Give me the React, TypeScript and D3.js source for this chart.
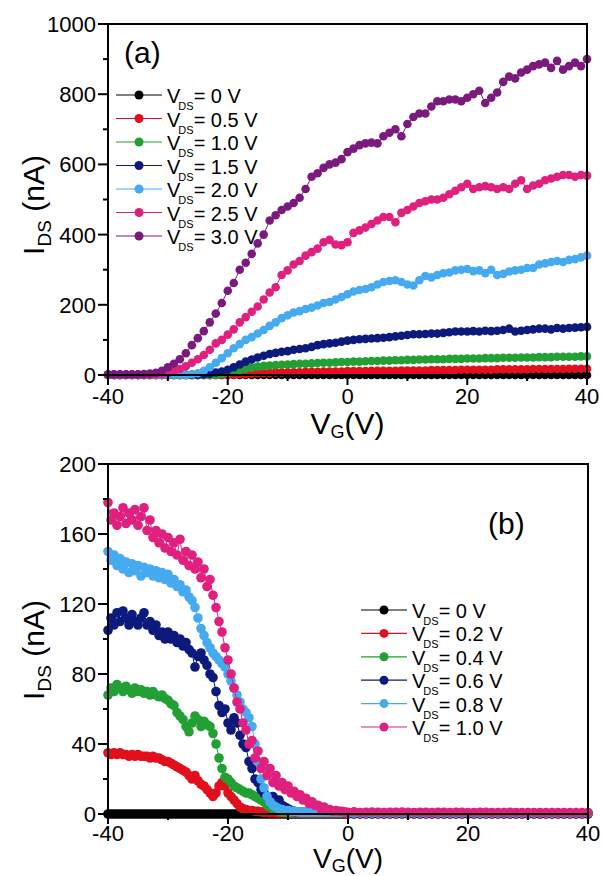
import React from "react";
import * as d3 from "d3";

const W = 604;
const H = 876;
const FONT = "'Liberation Sans', Arial, sans-serif";

// ---------- Panel (a): transfer curves, VG from -40 to 40 V, 1 V step ----------
const VG_A = d3.range(-40, 41, 1);

const VDS_A_LABELS = ["0 V", "0.5 V", "1.0 V", "1.5 V", "2.0 V", "2.5 V", "3.0 V"];
const VDS_A_COLORS = ["#000000", "#e2101c", "#22a033", "#0c1a7d", "#45aaf0", "#e0207e", "#7b1a7c"];

const IDS_A_0 = [
  0, 0, 0, 0, 0, 0, 0, 0, 0, 0, 0, 0, 0, 0, 0, 0, 0, 0, 0, 0,
  0, 0, 0, 0, 0, 0, 0, 0, 0, 0, 0, 0, 0, 0, 0, 0, 0, 0, 0, 0,
  0, 0, 0, 0, 0, 0, 0, 0, 0, 0, 0, 0, 0, 0, 0, 0, 0, 0, 0, 0,
  0, 0, 0, 0, 0, 0, 0, 0, 0, 0, 0, 0, 0, 0, 0, 0, 0, 0, 0, 0, 0,
];
const IDS_A_05 = [
  0.2, 0.2, 0.2, 0.2, 0.2, 0.2, 0.2, 0.2, 0.2, 0.2, 0.2, 0.2, 0.2, 0.2, 0.2, 0.2, 0.2, 0.2, 0.2, 0.2,
  0.5, 1, 2, 3, 4, 5, 6, 6, 7, 7,
  8, 8, 8, 9, 9, 9, 10, 10, 10, 10,
  11, 11, 11, 11, 12, 12, 12, 12, 12, 13,
  13, 13, 13, 13, 14, 14, 14, 14, 14, 15,
  15, 15, 15, 15, 15, 16, 16, 16, 16, 16,
  16, 17, 17, 17, 17, 17, 17, 18, 18, 18,
  18,
];
const IDS_A_10 = [
  0.3, 0.3, 0.3, 0.3, 0.3, 0.3, 0.3, 0.3, 0.3, 0.3, 0.3, 0.3, 0.3, 0.3, 0.3, 0.3, 0.3, 0.3,
  1, 3, 6, 10, 14, 18, 21, 24, 26, 27,
  28, 29, 30, 31, 32, 32, 33, 34, 35, 35,
  36, 37, 37, 38, 38, 39, 40, 40, 41, 41,
  42, 42, 43, 43, 44, 44, 45, 45, 45, 46,
  46, 46, 47, 47, 47, 48, 48, 48, 49, 49,
  49, 50, 50, 50, 51, 51, 51, 52, 52, 52,
  52, 53, 53,
];
const IDS_A_15 = [
  0.5, 0.5, 0.5, 0.5, 0.5, 0.5, 0.5, 0.5, 0.5, 0.5, 0.5, 0.5, 0.5, 0.5, 0.5,
  1, 2, 4, 7, 10, 15, 22, 30, 38, 44,
  50, 55, 60, 63, 66, 68, 72, 74, 76, 80,
  85, 88, 90, 92, 95, 98, 100, 102, 103, 104,
  105, 106, 108, 110, 112, 114, 116, 116, 117, 118,
  118, 120, 122, 124, 124, 124, 125, 124, 126, 125,
  126, 128, 132, 124, 126, 128, 130, 132, 132, 130,
  134, 132, 134, 135, 136, 137,
];
const IDS_A_20 = [
  1, 1, 1, 1, 1, 1, 1, 1, 1, 1, 1, 1, 1, 1,
  2, 5, 12, 22, 35, 48, 62, 76, 88, 100,
  108, 118, 128, 140, 150, 162, 170, 178, 182, 188,
  192, 198, 205, 208, 215, 222, 230, 238, 242, 245,
  250, 258, 265, 268, 270, 265, 258, 255, 270, 282,
  278, 285, 290, 292, 298, 300, 302, 296, 298, 290,
  300, 285, 288, 295, 298, 300, 305, 305, 315, 318,
  322, 325, 322, 328, 330, 335, 340,
];
const IDS_A_25 = [
  1, 1, 1, 1, 1, 1, 1, 1, 2, 3,
  5, 10, 17, 25, 35, 45, 57, 72, 90, 100,
  115, 130, 150, 165, 180, 195, 215, 235, 250, 285,
  298, 315, 325, 340, 350, 360, 378, 385, 372, 370,
  378, 405, 412, 420, 430, 440, 450, 450, 435, 462,
  470, 480, 490, 495, 500, 500, 505, 515, 525, 535,
  545, 530, 535, 538, 535, 530, 535, 530, 545, 555,
  530, 540, 545, 555, 560, 565, 570, 570, 565, 570,
  568,
];
const IDS_A_30 = [
  2, 2, 2, 2, 2, 2, 3,
  4, 6, 12, 22, 32, 45, 62, 85, 105, 125,
  150, 175, 205, 240, 262, 300, 320, 345, 375, 400,
  440, 455, 470, 480, 490, 505, 530, 565, 575, 590,
  600, 605, 615, 635, 645, 655, 660, 662, 660, 680,
  690, 700, 680, 715, 735, 745, 745, 765, 780, 780,
  785, 785, 780, 790, 800, 810, 775, 790, 805, 835,
  850, 845, 862, 870, 880, 885, 890, 875, 895, 870,
  880, 890, 880, 900,
];
const SERIES_A = [IDS_A_0, IDS_A_05, IDS_A_10, IDS_A_15, IDS_A_20, IDS_A_25, IDS_A_30];

const Y_TICKS_A = [0, 200, 400, 600, 800, 1000];
const Y_MINOR_A = [100, 300, 500, 700, 900];

// ---------- Panel (b): VG from -40 to 0 (0.5 V step), then 0 to 40 (1 V step) ----------
const VG_B = [...d3.range(-40, 0, 0.5), ...d3.range(0, 41, 1)];

const VDS_B_LABELS = ["0 V", "0.2 V", "0.4 V", "0.6 V", "0.8 V", "1.0 V"];
const VDS_B_COLORS = ["#000000", "#e2101c", "#22a033", "#0c1a7d", "#45aaf0", "#e0207e"];

const TAIL_B_LOW = [
  0.5, 0.5, 0.5, 0.5, 0.5, 0.5, 0.5, 0.5, 0.5, 0.5,
  0.5, 0.5, 0.5, 0.5, 0.5, 0.5, 0.5, 0.5, 0.5, 0.5,
  0.5, 0.5, 0.5, 0.5, 0.5, 0.5, 0.5, 0.5, 0.5, 0.5,
  0.5, 0.5, 0.5, 0.5, 0.5, 0.5, 0.5, 0.5, 0.5, 0.5, 0.5,
];
const IDS_B_0 = [
  0, 0, 0, 0, 0, 0, 0, 0, 0, 0, 0, 0, 0, 0, 0, 0, 0, 0, 0, 0,
  0, 0, 0, 0, 0, 0, 0, 0, 0, 0, 0, 0, 0, 0, 0, 0, 0, 0, 0, 0,
  0, 0, 0, 0, 0, 0, 0, 0, 0, 0, 0, 0, 0, 0, 0, 0, 0, 0, 0, 0,
  0, 0, 0, 0, 0, 0, 0, 0, 0, 0, 0, 0, 0, 0, 0, 0, 0, 0, 0, 0,
  0, 0, 0, 0, 0, 0, 0, 0, 0, 0, 0, 0, 0, 0, 0, 0, 0, 0, 0, 0,
  0, 0, 0, 0, 0, 0, 0, 0, 0, 0, 0, 0, 0, 0, 0, 0, 0, 0, 0, 0, 0,
];
const IDS_B_02 = [
  35, 34, 35, 34, 35, 34, 34, 33, 34, 33,
  34, 33, 33, 33, 32, 33, 32, 32, 31, 30,
  30, 29, 28, 27, 26, 25, 24, 22, 20, 22,
  19, 17, 16, 14, 12, 10, 12, 16, 18, 16,
  12, 10, 8, 6, 4, 3, 2.5, 2, 2, 1.5,
  1.5, 1.2, 1, 1, 0.8, 0.8, 0.6, 0.6, 0.6, 0.6,
  0.5, 0.5, 0.5, 0.5, 0.5, 0.5, 0.5, 0.5, 0.5, 0.5,
  0.5, 0.5, 0.5, 0.5, 0.5, 0.5, 0.5, 0.5, 0.5, 0.5,
  ...TAIL_B_LOW,
];
const IDS_B_04 = [
  68, 72, 70, 74, 72, 70, 73, 71, 69, 72,
  70, 71, 69, 70, 68, 70, 68, 67, 68, 66,
  65, 63, 62, 58, 56, 54, 50, 47, 52, 56,
  54, 50, 53, 51, 50, 46, 40, 32, 26, 21,
  20, 18, 16, 15, 14, 13, 12, 12, 11, 10,
  9, 8, 7, 5, 4, 3, 2, 1.5, 1, 1,
  1, 0.8, 0.8, 0.8, 0.8, 0.8, 0.8, 0.8, 0.8, 0.8,
  0.8, 0.8, 0.8, 0.8, 0.8, 0.8, 0.8, 0.8, 0.8, 0.8,
  ...TAIL_B_LOW,
];
const IDS_B_06 = [
  105, 112, 108, 115, 110, 116, 112, 108, 114, 110,
  108, 112, 115, 108, 110, 105, 108, 102, 104, 100,
  104, 100, 102, 98, 100, 96, 98, 94, 92, 84,
  90, 92, 88, 85, 80, 78, 70, 62, 58, 60,
  52, 48, 55, 52, 45, 40, 38, 30, 26, 20,
  18, 14, 12, 10, 9, 10, 7, 8, 5, 4,
  3, 2, 1.5, 1, 1, 1, 1, 1, 1, 1,
  1, 1, 1, 1, 1, 1, 1, 1, 1, 1,
  ...TAIL_B_LOW,
];
const IDS_B_08 = [
  150, 145, 148, 142, 146, 140, 144, 138, 143, 139,
  142, 136, 141, 138, 140, 136, 139, 135, 138, 134,
  137, 132, 134, 130, 131, 127, 128, 124, 122, 118,
  112, 106, 102, 98, 95, 92, 90, 88, 86, 84,
  80, 76, 72, 68, 64, 60, 58, 55, 50, 40,
  30, 20, 15, 10, 7, 5, 4, 3, 2.5, 2,
  2, 1.5, 1.5, 1.2, 1, 1, 1, 1, 1, 1,
  1, 1, 1, 1, 1, 1, 1, 1, 1, 1,
  ...TAIL_B_LOW,
];
const IDS_B_10 = [
  178, 168, 172, 165, 170, 175, 166, 172, 168, 174,
  165, 170, 175, 162, 168, 158, 162, 155, 160, 152,
  158, 150, 155, 148, 157, 145, 150, 142, 148, 140,
  144, 135, 140, 130, 134, 125, 118, 110, 104, 95,
  88, 80, 72, 64, 60, 52, 48, 40, 42, 32,
  36, 26, 30, 22, 26, 18, 22, 16, 18, 14,
  16, 12, 13, 10, 11, 8, 9, 6, 7, 5,
  5, 3, 4, 2, 2.5, 1.5, 2, 1.5, 1.5, 1,
  1, 1.2, 0.9, 1, 1.1, 1, 0.9, 1, 1, 1.1,
  1, 0.9, 1, 1, 0.8, 1, 1, 0.9, 1, 1,
  0.8, 0.9, 1, 1, 0.8, 0.9, 0.8, 1, 0.9, 0.8,
  0.8, 0.9, 0.8, 0.8, 0.9, 0.8, 0.8, 0.9, 0.8, 0.8,
  0.8,
];
const SERIES_B = [IDS_B_0, IDS_B_02, IDS_B_04, IDS_B_06, IDS_B_08, IDS_B_10];

const Y_TICKS_B = [0, 40, 80, 120, 160, 200];
const Y_MINOR_B = [20, 60, 100, 140, 180];

const X_TICKS = [-40, -20, 0, 20, 40];
const X_MINOR = [-30, -10, 10, 30];

type PanelProps = {
  box: { left: number; right: number; top: number; bottom: number };
  yMax: number;
  yTicks: number[];
  yMinor: number[];
  vg: number[];
  series: number[][];
  colors: string[];
  labels: string[];
  legend: { x: number; y: number; dy: number };
  tag: { text: string; x: number; y: number };
  yTitleY: number;
  xTitleY: number;
  xTitleSize: number;
  xLabelOffset: number;
  r: number;
};

function Panel(p: PanelProps) {
  const x = d3.scaleLinear().domain([-40, 40]).range([p.box.left, p.box.right]);
  const y = d3.scaleLinear().domain([0, p.yMax]).range([p.box.bottom, p.box.top]);
  const line = d3
    .line<number>()
    .x((_, i) => x(p.vg[i]))
    .y((d) => y(d));
  const MAJ = 10;
  const MIN = 5;
  return (
    <g>
      {p.series.map((s, si) => (
        <g key={si}>
          <path d={line(s) || ""} fill="none" stroke={p.colors[si]} strokeWidth={1} />
          {s.map((v, i) => (
            <circle key={i} cx={x(p.vg[i])} cy={y(v)} r={p.r} fill={p.colors[si]} />
          ))}
        </g>
      ))}
      <rect
        x={p.box.left}
        y={p.box.top}
        width={p.box.right - p.box.left}
        height={p.box.bottom - p.box.top}
        fill="none"
        stroke="#000"
        strokeWidth={2}
      />
      {p.yTicks.map((t) => (
        <g key={"y" + t}>
          <line x1={p.box.left - MAJ} x2={p.box.left} y1={y(t)} y2={y(t)} stroke="#000" strokeWidth={2} />
          <text x={p.box.left - 12} y={y(t) + 8} textAnchor="end" fontSize={22} fontFamily={FONT}>
            {t}
          </text>
        </g>
      ))}
      {p.yMinor.map((t) => (
        <line key={"ym" + t} x1={p.box.left - MIN} x2={p.box.left} y1={y(t)} y2={y(t)} stroke="#000" strokeWidth={2} />
      ))}
      {X_TICKS.map((t) => (
        <g key={"x" + t}>
          <line x1={x(t)} x2={x(t)} y1={p.box.bottom} y2={p.box.bottom + MAJ} stroke="#000" strokeWidth={2} />
          <text x={x(t)} y={p.box.bottom + p.xLabelOffset} textAnchor="middle" fontSize={22} fontFamily={FONT}>
            {t}
          </text>
        </g>
      ))}
      {X_MINOR.map((t) => (
        <line key={"xm" + t} x1={x(t)} x2={x(t)} y1={p.box.bottom} y2={p.box.bottom + MIN + 1} stroke="#000" strokeWidth={2} />
      ))}
      {/* axis titles */}
      <text
        transform={`translate(44,${p.yTitleY}) rotate(-90)`}
        textAnchor="middle"
        fontSize={30}
        fontFamily={FONT}
      >
        <tspan>I</tspan>
        <tspan fontSize={19} dy={7}>DS</tspan>
        <tspan dy={-7}> (nA)</tspan>
      </text>
      <text x={(p.box.left + p.box.right) / 2} y={p.xTitleY} textAnchor="middle" fontSize={p.xTitleSize} fontFamily={FONT}>
        <tspan>V</tspan>
        <tspan fontSize={18} dy={4}>G</tspan>
        <tspan dy={-4}>(V)</tspan>
      </text>
      <text x={p.tag.x} y={p.tag.y} fontSize={30} fontFamily={FONT}>
        {p.tag.text}
      </text>
      {/* legend */}
      {p.labels.map((lab, i) => {
        const cy = p.legend.y + i * p.legend.dy;
        const lx = p.legend.x;
        return (
          <g key={"l" + i}>
            <line x1={lx} x2={lx + 46} y1={cy} y2={cy} stroke={p.colors[i]} strokeWidth={1.2} />
            <circle cx={lx + 23} cy={cy} r={4.5} fill={p.colors[i]} />
            <text x={lx + 51} y={cy + 8} fontSize={20} fontFamily={FONT}>
              <tspan>V</tspan>
              <tspan fontSize={11} dy={7} dx={-2}>DS</tspan>
              <tspan dy={-7}>{"= " + lab}</tspan>
            </text>
          </g>
        );
      })}
    </g>
  );
}

export default function App() {
  return (
    <svg
      width={W}
      height={H}
      style={{ position: "absolute", left: 0, top: 0, background: "#fff" }}
    >
      <rect x={0} y={0} width={W} height={H} fill="#fff" />
      <Panel
        box={{ left: 108, right: 587, top: 24, bottom: 375 }}
        yMax={1000}
        yTicks={Y_TICKS_A}
        yMinor={Y_MINOR_A}
        vg={VG_A}
        series={SERIES_A}
        colors={VDS_A_COLORS}
        labels={VDS_A_LABELS}
        legend={{ x: 116, y: 95, dy: 23.5 }}
        tag={{ text: "(a)", x: 124, y: 63 }}
        yTitleY={205}
        xTitleY={434}
        xTitleSize={30}
        xLabelOffset={29}
        r={4.3}
      />
      <Panel
        box={{ left: 108, right: 588, top: 464, bottom: 814 }}
        yMax={200}
        yTicks={Y_TICKS_B}
        yMinor={Y_MINOR_B}
        vg={VG_B}
        series={SERIES_B}
        colors={VDS_B_COLORS}
        labels={VDS_B_LABELS}
        legend={{ x: 361, y: 610, dy: 23.4 }}
        tag={{ text: "(b)", x: 488, y: 534 }}
        yTitleY={650}
        xTitleY={868}
        xTitleSize={28}
        xLabelOffset={27}
        r={4.8}
      />
    </svg>
  );
}
